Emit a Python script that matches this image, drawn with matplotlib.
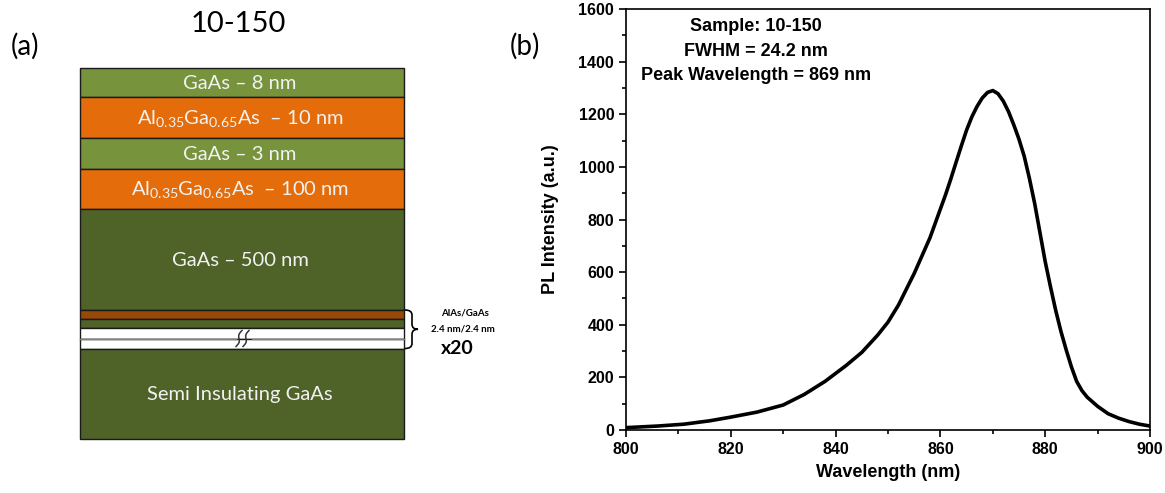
import matplotlib

matplotlib.use("Agg")

import matplotlib.pyplot as plt
import numpy as np
from matplotlib.patches import Rectangle, PathPatch
from matplotlib.path import Path
from matplotlib.ticker import MultipleLocator

plt.rcParams["mathtext.fontset"] = "custom"
plt.rcParams["mathtext.rm"] = "Lato"
plt.rcParams["mathtext.it"] = "Lato"

# (a) layer stack, top to bottom
layer_labels = [
    "GaAs – 8 nm",
    r"Al$_{0.35}$Ga$_{0.65}$As  – 10 nm",
    "GaAs – 3 nm",
    r"Al$_{0.35}$Ga$_{0.65}$As  – 100 nm",
    "GaAs – 500 nm",
    "",
    "",
    "",
    "",
    "Semi Insulating GaAs",
]
layer_kinds = ["gaas_thin", "algaas", "gaas_thin", "algaas", "gaas", "alas",
               "gaas", "gap", "gap", "gaas"]
layer_heights = [29.5, 41, 30.5, 40, 101, 9, 9, 11, 10, 90]
superlattice_labels = ["AlAs/GaAs", "2.4 nm/2.4 nm", "x20"]

# (b) PL spectrum, sample 10-150
wavelength = [800, 806, 811, 816, 820, 825, 830, 834, 838, 842, 845, 848, 850,
              852, 854, 855, 856, 857, 858, 859, 860, 861, 862, 863, 864, 865,
              866, 867, 868, 869, 870, 871, 872, 873, 874, 875, 876, 877, 878,
              879, 880, 881, 882, 883, 884, 885, 886, 887, 888, 890, 892, 894,
              896, 898, 900]
intensity = [9, 15, 22, 35, 49, 68, 95, 135, 185, 245, 295, 360, 410,
             475, 555, 595, 640, 685, 730, 785, 840, 895, 955, 1018, 1080, 1140,
             1190, 1230, 1262, 1283, 1290, 1278, 1250, 1210, 1160, 1105, 1040, 955, 860,
             750, 640, 545, 455, 375, 305, 240, 185, 150, 125, 90, 62, 45,
             32, 22, 15]
annotation_lines = ["Sample: 10-150", "FWHM = 24.2 nm", "Peak Wavelength = 869 nm"]

colors = {
    "gaas_thin": "#77933C",
    "algaas": "#E46C0A",
    "gaas": "#4F6228",
    "alas": "#984807",
    "gap": "white",
}

fig = plt.figure(figsize=(11.65, 4.93), dpi=100)

# ---- panel (a): drawn in pixel coordinates
axl = fig.add_axes([0, 0, 1, 1])
axl.set_xlim(0, 1165)
axl.set_ylim(493, 0)
axl.axis("off")

x0, x1 = 79.5, 403.5
y = 67.5
sans = ["Lato", "DejaVu Sans"]
for label, kind, h in zip(layer_labels, layer_kinds, layer_heights):
    axl.add_patch(Rectangle((x0, y), x1 - x0, h, facecolor=colors[kind],
                            edgecolor="#1a1a1a", linewidth=1.0))
    if label:
        axl.text(240, y + h / 2 + 1, label, color="#F2F2F2", fontsize=14.5,
                 ha="center", va="center", family=sans)
    y += h

# break mark in the superlattice gap
gap_mid = 67.5 + sum(layer_heights[:8])
axl.plot([x0, 236], [gap_mid, gap_mid], color="#7f7f7f", lw=1.0)
axl.plot([252, x1], [gap_mid, gap_mid], color="#7f7f7f", lw=1.0)
t = np.linspace(0, 1, 20)
for dx in (0, 7):
    axl.plot(236 + dx + 6 * t + 1.5 * np.sin(2 * np.pi * t), gap_mid + 8 - 16 * t,
             color="#333333", lw=1.1)

# brace for the AlAs/GaAs superlattice
top = 67.5 + sum(layer_heights[:5]) + 0.5
bot = 67.5 + sum(layer_heights[:9])
mid = (top + bot) / 2
verts = [(405, top), (412, top), (412, top + 5), (412, mid - 5), (412, mid), (418, mid),
         (412, mid), (412, mid + 5), (412, bot - 5), (412, bot), (405, bot)]
codes = [Path.MOVETO, Path.CURVE3, Path.CURVE3, Path.LINETO, Path.CURVE3, Path.CURVE3,
         Path.CURVE3, Path.CURVE3, Path.LINETO, Path.CURVE3, Path.CURVE3]
axl.add_patch(PathPatch(Path(verts, codes), facecolor="none", edgecolor="black", lw=1.2))
axl.text(465, 313, superlattice_labels[0], fontsize=7, fontweight="bold",
         ha="center", va="center", family=sans)
axl.text(463, 329, superlattice_labels[1], fontsize=7, fontweight="bold",
         ha="center", va="center", family=sans)
axl.text(457, 349, superlattice_labels[2], fontsize=14, fontweight="bold",
         ha="center", va="center", family=sans)

axl.text(238, 24, "10-150", fontsize=21, ha="center", va="center", family=sans)
axl.text(25, 46, "(a)", fontsize=20, ha="center", va="center", family=sans)
axl.text(525, 46, "(b)", fontsize=20, ha="center", va="center", family=sans)

# ---- panel (b): PL spectrum
ax = fig.add_axes([626 / 1165, 63 / 493, 524 / 1165, 421 / 493])
ax.plot(wavelength, intensity, color="black", linewidth=2.6)
ax.set_xlim(800, 900)
ax.set_ylim(0, 1600)
ax.xaxis.set_major_locator(MultipleLocator(20))
ax.xaxis.set_minor_locator(MultipleLocator(10))
ax.yaxis.set_major_locator(MultipleLocator(200))
ax.yaxis.set_minor_locator(MultipleLocator(100))
ax.tick_params(which="both", direction="out", width=1.2, top=False, right=False)
ax.tick_params(which="major", length=5)
ax.tick_params(which="minor", length=3)
for lab in ax.get_xticklabels() + ax.get_yticklabels():
    lab.set_fontfamily("Liberation Sans")
    lab.set_fontweight("bold")
    lab.set_fontsize(11.5)
for sp in ax.spines.values():
    sp.set_linewidth(1.2)
ax.set_xlabel("Wavelength (nm)", fontsize=13, fontweight="bold",
              family="Liberation Sans", labelpad=5)
ax.set_ylabel("PL Intensity (a.u.)", fontsize=13, fontweight="bold",
              family="Liberation Sans", labelpad=14)
for i, line in enumerate(annotation_lines):
    ax.text(0.248, 0.958 - i * 0.058, line, transform=ax.transAxes, fontsize=13,
            fontweight="bold", ha="center", va="center", family="Liberation Sans")

fig.savefig("out.png", dpi=100)
